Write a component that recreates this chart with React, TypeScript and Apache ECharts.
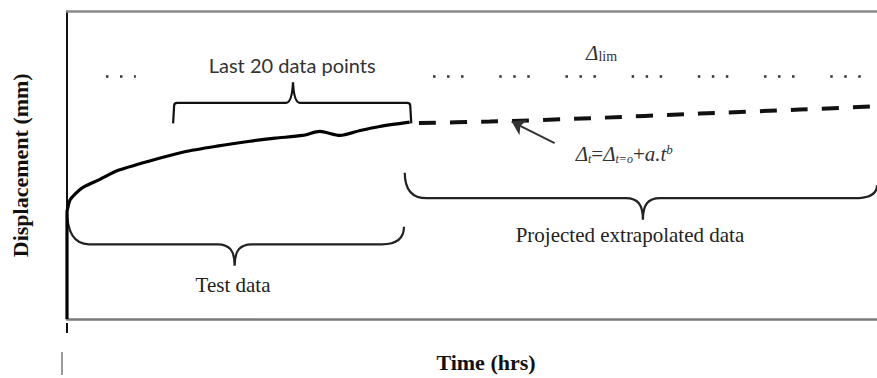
import React, { useEffect, useRef } from "react";
import * as echarts from "echarts";

// Schematic axes: Time (hrs) 0..100, Displacement (mm) 0..100 (arbitrary units)
const testTime = [0, 0, 0.12, 0.37, 0.99, 1.98, 4.07, 6.17, 10.2, 14.4, 18.5, 22.6, 25.7, 29.1, 31.2, 33.7, 36.2, 38.6, 42.3];
const testDisp = [0, 34.8, 36.4, 38.7, 40.6, 42.8, 45.4, 48.2, 51.4, 54.3, 56.2, 57.8, 58.8, 59.7, 61.0, 59.7, 61.3, 62.6, 64.0];

const projTime = [42.6, 52.2, 64.6, 78.1, 90.5, 100];
const projDisp = [63.7, 64.2, 65.3, 66.8, 68.1, 69.2];

const limitDisp = 78.9;
const limitSpanStart = [4.81, 45.19];
const limitSpanEnd = [8.5, 100];

// Braces: [start time, start disp, end time, end disp, brace level, tip time, tip disp]
const braceNames = ["Last 20 data points", "Test data", "Projected extrapolated data"];
const braceStartTime = [13.1, 0, 41.7];
const braceStartDisp = [63.6, 35.5, 47.6];
const braceEndTime = [42.5, 41.6, 100];
const braceEndDisp = [63.6, 30.0, 43.5];
const braceLevel = [70.3, 24.3, 39.3];
const braceTipTime = [27.9, 20.7, 71.1];
const braceTipDisp = [77.0, 17.3, 32.3];
const braceLabelTime = [27.8, 20.5, 69.5];
const braceLabelDisp = [82.7, 11.1, 27.4];

const limitLabelPos = [66.0, 86.4];
const formulaPos = [68.8, 53.5];
const arrowFrom = [60.2, 57.2];
const arrowTo = [54.9, 64.2];

const SERIF = "Liberation Serif";
const SANS = "Lato";

export default function App() {
  const ref = useRef<HTMLDivElement>(null);
  useEffect(() => {
    if (!ref.current) return;
    const chart = echarts.init(ref.current, undefined, { renderer: "svg" });
    const braceRows = braceNames.map((_, i) => [
      braceStartTime[i], braceStartDisp[i], braceEndTime[i], braceEndDisp[i],
      braceLevel[i], braceTipTime[i], braceTipDisp[i], braceLabelTime[i], braceLabelDisp[i],
    ]);
    const hidden = { show: false };
    const option: any = {
      animation: false,
      backgroundColor: "#fff",
      grid: { left: 67, right: 0, top: 11.5, bottom: 54.5 },
      xAxis: [
        {
          type: "value", min: 0, max: 100, position: "bottom",
          axisLine: { show: true, onZero: false, lineStyle: { color: "#7a7a7a", width: 2.5 } },
          axisTick: hidden, axisLabel: hidden, splitLine: hidden,
          name: "Time (hrs)", nameLocation: "middle", nameGap: 32,
          nameTextStyle: { fontFamily: SERIF, fontWeight: "bold", fontSize: 22, color: "#111", padding: [0, 0, 0, 28] },
        },
        {
          type: "value", min: 0, max: 100, position: "top",
          axisLine: { show: true, onZero: false, lineStyle: { color: "#8a8a8a", width: 2.5 } },
          axisTick: hidden, axisLabel: hidden, splitLine: hidden,
        },
      ],
      yAxis: {
        type: "value", min: 0, max: 100,
        axisLine: { show: true, onZero: false, lineStyle: { color: "#111", width: 2 } },
        axisTick: hidden, axisLabel: hidden, splitLine: hidden,
        name: "Displacement (mm)", nameLocation: "middle", nameGap: 36,
        nameTextStyle: { fontFamily: SERIF, fontWeight: "bold", fontSize: 22, color: "#111" },
      },
      graphic: [
        { type: "line", shape: { x1: 67, y1: 323, x2: 67, y2: 333 }, style: { stroke: "#111", lineWidth: 2 } },
        { type: "line", shape: { x1: 62, y1: 352, x2: 62, y2: 375 }, style: { stroke: "#777", lineWidth: 1.5 } },
      ],
      series: [
        ...limitSpanStart.map((s, i) => ({
          type: "line", xAxisIndex: 0, symbol: "none", silent: true,
          data: [[s, limitDisp], [limitSpanEnd[i], limitDisp]],
          lineStyle: { color: "#333", width: 2.5, type: [2.5, 11.5, 2.5, 11.5, 2.5, 35.7], cap: "butt" },
          markPoint: i === 1 ? {
            symbol: "circle", symbolSize: 0, silent: true,
            label: {
              show: true, position: "inside", formatter: "{d|Δ}{s|lim}",
              fontFamily: SERIF, color: "#333",
              rich: {
                d: { fontFamily: SERIF, fontStyle: "italic", fontSize: 21, color: "#333", verticalAlign: "middle" },
                s: { fontFamily: SERIF, fontSize: 14, color: "#333", verticalAlign: "bottom", padding: [6, 0, 0, 0] },
              },
            },
            data: [{ coord: limitLabelPos }],
          } : undefined,
        })),
        {
          type: "line", symbol: "none", smooth: 0.25, silent: true,
          data: testTime.map((t, i) => [t, testDisp[i]]),
          lineStyle: { color: "#000", width: 3.2, join: "round" },
        },
        {
          type: "line", symbol: "none", smooth: 0.3, silent: true,
          data: projTime.map((t, i) => [t, projDisp[i]]),
          lineStyle: { color: "#111", width: 4, type: [17, 14], dashOffset: 24, cap: "butt" },
          markLine: {
            silent: true, symbol: ["none", "arrow"], symbolSize: 13,
            lineStyle: { type: "solid", width: 2, color: "#333" },
            label: { show: false },
            data: [[{ coord: arrowFrom }, { coord: arrowTo }]],
          },
          markPoint: {
            symbol: "circle", symbolSize: 0, silent: true,
            label: {
              show: true, position: "inside",
              fontFamily: SERIF, fontStyle: "italic", color: "#333",
              formatter: "{d|Δ}{s|t}{n|=}{d|Δ}{s|t=o}{n|+}{d|a.t}{p|b}",
              rich: {
                d: { fontFamily: SERIF, fontStyle: "italic", fontSize: 21, color: "#333", verticalAlign: "middle" },
                n: { fontFamily: SERIF, fontStyle: "normal", fontSize: 21, color: "#333", verticalAlign: "middle" },
                s: { fontFamily: SERIF, fontStyle: "italic", fontSize: 12, color: "#333", verticalAlign: "bottom", padding: [9, 0, 0, 0] },
                p: { fontFamily: SERIF, fontStyle: "italic", fontSize: 13, color: "#333", verticalAlign: "top", padding: [0, 0, 9, 0] },
              },
            },
            data: [{ coord: formulaPos }],
          },
        },
        {
          type: "custom", clip: false, silent: true,
          data: braceRows,
          renderItem: (params: any, api: any) => {
            const p1 = api.coord([api.value(0), api.value(1)]);
            const p2 = api.coord([api.value(2), api.value(3)]);
            const b = api.coord([api.value(0), api.value(4)])[1];
            const t = api.coord([api.value(5), api.value(6)]);
            const lab = api.coord([api.value(7), api.value(8)]);
            const idx = params.dataIndex;
            let d = "";
            if (idx === 0) {
              const w = 7;
              const e = Math.sign(p1[1] - b);
              d = `M${p1[0]},${p1[1]} L${p1[0] + 1},${b + 3 * e} Q${p1[0] + 1},${b} ${p1[0] + 4},${b} ` +
                `L${t[0] - w},${b} Q${t[0] - 1},${b} ${t[0]},${t[1]} Q${t[0] + 1},${b} ${t[0] + w},${b} ` +
                `L${p2[0] - 4},${b} Q${p2[0] - 1},${b} ${p2[0] - 1},${b + 3 * e} L${p2[0]},${p2[1]}`;
            } else {
              const r = 22, w = 17;
              const m = b + (t[1] - b) * 0.3;
              d = `M${p1[0]},${p1[1]} Q${p1[0]},${b} ${p1[0] + r},${b} L${t[0] - w},${b} ` +
                `C${t[0] - w * 0.3},${b} ${t[0]},${m} ${t[0]},${t[1]} ` +
                `C${t[0]},${m} ${t[0] + w * 0.3},${b} ${t[0] + w},${b} ` +
                `L${p2[0] - r},${b} Q${p2[0]},${b} ${p2[0]},${p2[1]}`;
            }
            return {
              type: "group",
              children: [
                { type: "path", shape: { pathData: d }, style: { fill: "none", stroke: idx === 0 ? "#111" : "#222", lineWidth: 2.2 } },
                {
                  type: "text", x: lab[0], y: lab[1],
                  style: {
                    text: braceNames[idx], fill: idx === 0 ? "#333" : "#222",
                    fontFamily: idx === 0 ? SANS : SERIF, fontSize: idx === 0 ? 20 : 21,
                    align: "center", verticalAlign: "middle",
                  },
                },
              ],
            };
          },
        },
      ],
    };
    chart.setOption(option);
    return () => chart.dispose();
  }, []);
  return <div ref={ref} style={{ position: "fixed", left: 0, top: 0, width: 877, height: 378 }} />;
}
